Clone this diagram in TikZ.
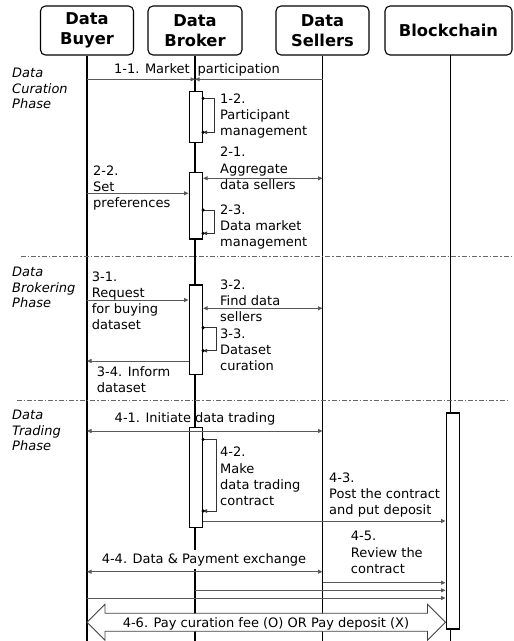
\documentclass[tikz,border=0pt]{standalone}
\usepackage{fontspec}
\setmainfont{DejaVu Sans}
\usetikzlibrary{arrows.meta,calc}
\begin{document}
\begin{tikzpicture}[x=1pt,y=-1pt,
  hdr/.style={draw, line width=1.1pt, rounded corners=5pt, minimum height=49pt, inner sep=0pt, align=center, font=\fontsize{16.3}{20.5}\selectfont\bfseries},
  life/.style={line width=1.5pt},
  actbox/.style={draw, fill=white, line width=1.2pt, minimum width=13.4pt, inner sep=0pt, anchor=north west},
  msg/.style={draw=black!65, line width=0.9pt, -{Triangle[length=4.5pt,width=4pt]}},
  dmsg/.style={draw=black!65, line width=0.9pt, {Triangle[length=4.5pt,width=4pt]}-{Triangle[length=4.5pt,width=4pt]}},
  selfc/.style={draw=black!80, line width=0.8pt, -{Triangle[length=4pt,width=3.6pt]}},
  lbl/.style={inner sep=0pt, align=left, anchor=north west, font=\fontsize{13}{16.2}\selectfont},
  clbl/.style={inner sep=0pt, anchor=base, font=\fontsize{13}{16.2}\selectfont},
  phase/.style={inner sep=0pt, align=left, anchor=north west, font=\fontsize{13}{15.5}\selectfont\itshape},
  sepline/.style={draw=black!60, line width=0.8pt, dash pattern=on 5pt off 2pt on 1.5pt off 2pt}
]
\useasboundingbox (0,0) rectangle (514,641);

% headers
\node[hdr, minimum width=93pt] (buyer) at (87,30.5) {Data\\Buyer};
\node[hdr, minimum width=94pt] (broker) at (195,30.5) {Data\\Broker};
\node[hdr, minimum width=93pt] (sellers) at (322.5,30.5) {Data\\Sellers};
\node[hdr, minimum width=127pt] (chain) at (448.5,30.5) {Blockchain};

% lifelines
\coordinate (buyerEnd) at (87,641);
\coordinate (brokerEnd) at (195,641);
\coordinate (sellersEnd) at (322.5,641);
\coordinate (chainTop) at (450.7,55);
\coordinate (chainEnd) at (450.7,641);
\draw[life] (buyer.south) -- (buyerEnd);
\draw[life] (broker.south) -- (brokerEnd);
\draw[life] (sellers.south) -- (sellersEnd);
\draw[life] (chainTop) -- (chainEnd);

% phase separators
\coordinate (s1a) at (20.7,256.7); \coordinate (s1b) at (514,256.7);
\coordinate (s2a) at (16.7,400); \coordinate (s2b) at (508,400);
\draw[sepline] (s1a) -- (s1b);
\draw[sepline] (s2a) -- (s2b);

% phase labels
\node[phase] (P1) at (12,68.3) {Data\\Curation\\Phase};
\node[phase] (P2) at (12,267) {Data\\Brokering\\Phase};
\node[phase] (P3) at (12,410.3) {Data\\Trading\\Phase};

% activation boxes
\node[actbox, minimum height=51pt] (act1) at (188.5,90.7) {};
\node[actbox, minimum height=66.6pt] (act2) at (188.5,171.7) {};
\node[actbox, minimum height=89.7pt] (act3) at (188.5,284.3) {};
\node[actbox, minimum height=100pt] (act4) at (188.5,426.7) {};
\node[actbox, minimum width=13.5pt, minimum height=216pt] (actB) at (445.5,412.3) {};

% 1-1
\draw[msg] (buyer |- 0,79.3) -- (broker |- 0,79.3);
\draw[msg] (sellers |- 0,79.3) -- (broker |- 0,79.3);
\node[clbl] (L11) at (197,73.8) {1-1. Market\hspace{8pt}participation};

% 1-2 self
\draw[selfc] (act1.east |- 0,98.3) -- ++(11.5,0) |- (act1.east |- 0,132.3);
\fill (act1.east |- 0,98.3) circle (1.7pt);
\fill (act1.east |- 0,132.3) circle (1.7pt);
\node[lbl] (L12) at (220,93.6) {1-2.\\Participant\\management};

% 2-1
\draw[dmsg] (act2.east |- 0,178.3) -- (sellers |- 0,178.3);
\node[lbl] (L21) at (220,147) {2-1.\\Aggregate\\data sellers};

% 2-2
\draw[msg] (buyer |- 0,193.3) -- (act2.west |- 0,193.3);
\node[lbl] (L22) at (93,165.3) {2-2.\\Set\\preferences};

% 2-3 self
\draw[selfc] (act2.east |- 0,210) -- ++(11.5,0) |- (act2.east |- 0,233.3);
\fill (act2.east |- 0,210) circle (1.7pt);
\fill (act2.east |- 0,233.3) circle (1.7pt);
\node[lbl] (L23) at (220,204.6) {2-3.\\Data market\\management};

% 3-1
\draw[msg] (buyer |- 0,300) -- (act3.west |- 0,300);
\node[lbl] (L31) at (91.7,271.3) {3-1.\\Request\\for buying\\dataset};

% 3-2
\draw[dmsg] (act3.east |- 0,308.3) -- (sellers |- 0,308.3);
\node[lbl] (L32) at (220,279.6) {3-2.\\Find data\\sellers};

% 3-3 self
\draw[selfc] (act3.east |- 0,327.7) -- ++(13,0) |- (act3.east |- 0,350.7);
\fill (act3.east |- 0,327.7) circle (1.7pt);
\fill (act3.east |- 0,350.7) circle (1.7pt);
\node[lbl] (L33) at (220,328.6) {3-3.\\Dataset\\curation};

% 3-4
\draw[msg] (act3.west |- 0,361) -- (buyer |- 0,361);
\node[lbl] (L34) at (96.7,366) {3-4. Inform\\dataset};

% 4-1
\draw[dmsg] (buyer |- 0,431) -- (sellers |- 0,431);
\node[clbl] (L41) at (195,422) {4-1. Initiate\hspace{4pt}data trading};

% 4-2 self
\draw[selfc] (act4.east |- 0,439.3) -- ++(13,0) |- (act4.east |- 0,511);
\fill (act4.east |- 0,439.3) circle (1.7pt);
\fill (act4.east |- 0,511) circle (1.7pt);
\node[lbl] (L42) at (220,447) {4-2.\\Make\\data trading\\contract};

% 4-3
\draw[msg] (act4.east |- 0,521) -- (actB.west |- 0,521);
\node[lbl] (L43) at (329,472.6) {4-3.\\Post the contract\\and put deposit};

% 4-4
\draw[dmsg] (buyer |- 0,571.7) -- (sellers |- 0,571.7);
\node[clbl, fill=white, inner xsep=1pt, inner ysep=3pt] (L44) at (204,563) {4-4. Data \& Payment exchange};

% 4-5
\node[lbl] (L45) at (350.7,531.3) {4-5.\\Review the\\contract};
\draw[msg] (sellers |- 0,582.7) -- (actB.west |- 0,582.7);
\draw[msg] (broker |- 0,590.3) -- (actB.west |- 0,590.3);
\draw[msg] (buyer |- 0,598) -- (actB.west |- 0,598);

% 4-6 block arrow
\draw[draw=black!75, line width=0.8pt, fill=white]
  (87,622.3) -- (105,604.3) -- (105,613.3) -- (427.5,613.3) -- (427.5,604.3)
  -- (445.5,622.3) -- (427.5,640.3) -- (427.5,631.3) -- (105,631.3) -- (105,640.3) -- cycle;
\node[clbl] (L46) at (266,627) {4-6. Pay curation fee (O) OR Pay deposit (X)};

\end{tikzpicture}
\end{document}
